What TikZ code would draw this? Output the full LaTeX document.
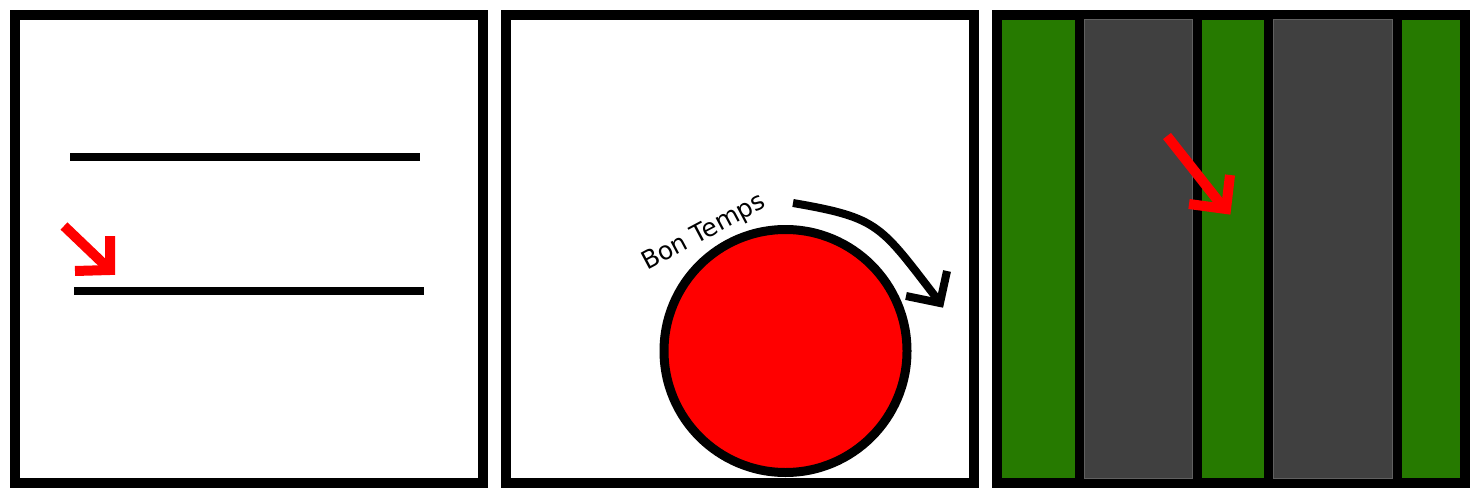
\documentclass[tikz,border=0pt]{standalone}
\usepackage{fontspec}
\newfontfamily\labelfont{DejaVu Sans}
\definecolor{stripegreen}{HTML}{267A00}
\definecolor{stripegray}{HTML}{404040}
\definecolor{stripeedge}{HTML}{606060}
\begin{document}
\begin{tikzpicture}[x=1pt,y=-1pt,
  frame/.style={draw=black,line width=10pt,fill=white},
  bar/.style={draw=black,line width=8pt},
  redarrow/.style={draw=red,line width=10pt,line join=miter},
  blackarrow/.style={draw=black,line width=8pt,line join=miter}]
\useasboundingbox (0,0) rectangle (1480,500);
% panel 1
\draw[frame] (15,15) rectangle (483,483);
\draw[bar] (70,157) -- (420,157);
\draw[bar] (74,291) -- (424,291);
\draw[redarrow] (64,226) -- (109,269);
\draw[redarrow] (110,236) -- (110,270) -- (75,271);
% panel 2
\draw[frame] (506,15) rectangle (974,483);
\draw[black,line width=9pt,fill=red] (785.5,351) circle (121.5);
\draw[blackarrow] (793,203) .. controls (880,218) and (880,225) .. (938,300);
\draw[blackarrow] (947,271) -- (940,303) -- (906,296);
\node[font=\labelfont\fontsize{25}{25}\selectfont,rotate=28,inner sep=0pt] (label) at (704,233) {Bon Temps};
% panel 3
\fill[black] (992,10) rectangle (1470,488);
\fill[stripegreen] (1002,20) rectangle (1075,478);
\draw[stripeedge,fill=stripegray,line width=1pt] (1084.5,20) rectangle (1192.5,478);
\fill[stripegreen] (1202,20) rectangle (1264,478);
\draw[stripeedge,fill=stripegray,line width=1pt] (1273.5,20) rectangle (1392.5,478);
\fill[stripegreen] (1402,20) rectangle (1460,478);
\draw[redarrow] (1167,136) -- (1223,207);
\draw[redarrow] (1230,175) -- (1226,209) -- (1189,204);
\end{tikzpicture}
\end{document}
